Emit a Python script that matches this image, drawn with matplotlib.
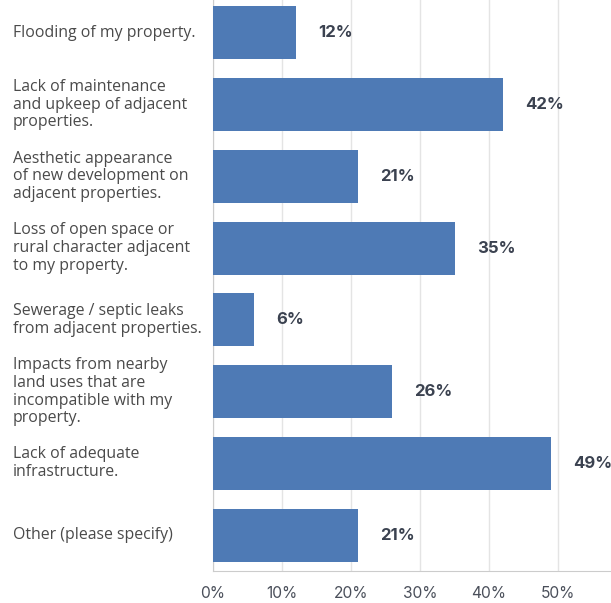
import matplotlib.pyplot as plt
from matplotlib.transforms import blended_transform_factory

# ---------------- DATA ----------------
labels = [
    "Flooding of my property.",
    "Lack of maintenance\nand upkeep of adjacent\nproperties.",
    "Aesthetic appearance\nof new development on\nadjacent properties.",
    "Loss of open space or\nrural character adjacent\nto my property.",
    "Sewerage / septic leaks\nfrom adjacent properties.",
    "Impacts from nearby\nland uses that are\nincompatible with my\nproperty.",
    "Lack of adequate\ninfrastructure.",
    "Other (please specify)",
]
values = [12, 42, 21, 35, 6, 26, 49, 21]
ticks = [0, 10, 20, 30, 40, 50, 60]

BAR = "#4e7ab5"

fig = plt.figure(figsize=(6.11, 6.03), dpi=100)
# axes run past the right edge, like the cropped original
ax = fig.add_axes([213 / 611, 1 - 571 / 603, 414 / 611, 574 / 603])

y = list(range(len(values)))
ax.barh(y, values, height=0.74, color=BAR, zorder=3)
ax.set_ylim(len(values) - 0.5, -0.5)
ax.set_xlim(0, 60)

# value labels
for yi, v in zip(y, values):
    ax.annotate(f"{v}%", (v, yi), xytext=(16, 0), textcoords="offset points",
                ha="left", va="center", fontsize=12, fontweight="bold",
                color="#3b4250", family="Inter")

# category labels on the left
tr = blended_transform_factory(fig.transFigure, ax.transData)
for yi, lab in zip(y, labels):
    ax.text(13 / 611, yi, lab, transform=tr, ha="left", va="center",
            fontsize=11.4, color="#4a4a4a", family="Open Sans",
            linespacing=1.15)

ax.set_yticks([])
ax.set_xticks(ticks)
ax.set_xticklabels([f"{t}%" for t in ticks], fontsize=11.2, color="#4a4f5a",
                   family="Inter")
ax.tick_params(axis="x", length=0, pad=11)
ax.grid(axis="x", color="#e4e4e4", linewidth=1, zorder=0)

for s in ["top", "right"]:
    ax.spines[s].set_visible(False)
ax.spines["left"].set_color("#cccccc")
ax.spines["bottom"].set_color("#cccccc")

fig.savefig("out.png", dpi=100)
